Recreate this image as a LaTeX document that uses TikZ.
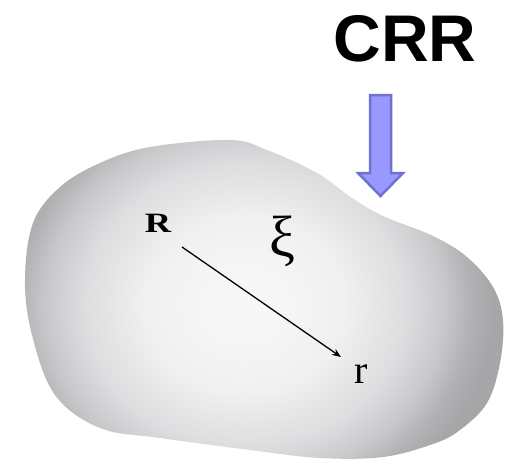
\documentclass[tikz,border=0pt]{standalone}
\usepackage{graphicx}
\usepackage{fontspec}
\newfontfamily\headfont{Liberation Sans}
\newfontfamily\labelfont{Liberation Serif}
\usetikzlibrary{arrows.meta}
\definecolor{blobc0}{RGB}{247,247,248}
\definecolor{blobc1}{RGB}{240,240,241}
\definecolor{blobc2}{RGB}{221,221,223}
\definecolor{blobc3}{RGB}{200,200,202}
\definecolor{blobc4}{RGB}{178,178,180}
\definecolor{blobc5}{RGB}{166,166,168}
\definecolor{arrowfill}{RGB}{152,152,255}
\definecolor{arrowline}{RGB}{112,112,208}
\pgfdeclareradialshading{blobshade}{\pgfpoint{0bp}{0bp}}{color(0bp)=(blobc0); color(1.5bp)=(blobc0); color(5bp)=(blobc1); color(8.1bp)=(blobc2); color(10bp)=(blobc3); color(11.25bp)=(blobc4); color(12.5bp)=(blobc5); color(50bp)=(blobc5)}
\tikzset{
  lbl/.style={inner sep=1pt, text=black},
}
\begin{document}
\begin{tikzpicture}[x=1pt,y=-1pt]
\useasboundingbox (0,0) rectangle (506,466);
\begin{scope}
\clip plot[smooth cycle, tension=0.6] coordinates {
 (230,140) (267,150) (317,173) (352,198) (383,216) (433,236) (467,257) (493,287)
 (503,320) (500,363) (487,403) (460,430) (433,444) (383,457) (320,458)
 (250,450) (160,438) (100,428) (55,395) (32,335) (25,280) (33,223) (60,187)
 (100,163) (150,147)};
\shade[shading=blobshade] (245-500,305-440) rectangle (245+500,305+440);
\end{scope}
\node[font={\headfont\bfseries\fontsize{66}{70}\selectfont}, inner sep=0pt] (crr) at (405,39) {CRR};
\filldraw[fill=arrowfill, draw=arrowline, line width=2.5pt, line join=miter]
 (370,95) -- (391,95) -- (391,173) -- (403,173) -- (380.5,196) -- (358,173) -- (370,173) -- cycle;
\node[lbl, font={\labelfont\bfseries\fontsize{28}{30}\selectfont}] (R) at (158,223) {\scalebox{1.3}[1]{R}};
\node[lbl, font={\labelfont\fontsize{58}{62}\selectfont}] (xi) at (282,241) {ξ};
\node[lbl, font={\labelfont\fontsize{40}{42}\selectfont}] (r) at (361,374) {r};
\draw[line width=1.3pt, -{Stealth[length=9pt,width=7pt]}] ([shift={(24,24)}]R.center) -- ([shift={(-20,-17)}]r.center);
\end{tikzpicture}
\end{document}
